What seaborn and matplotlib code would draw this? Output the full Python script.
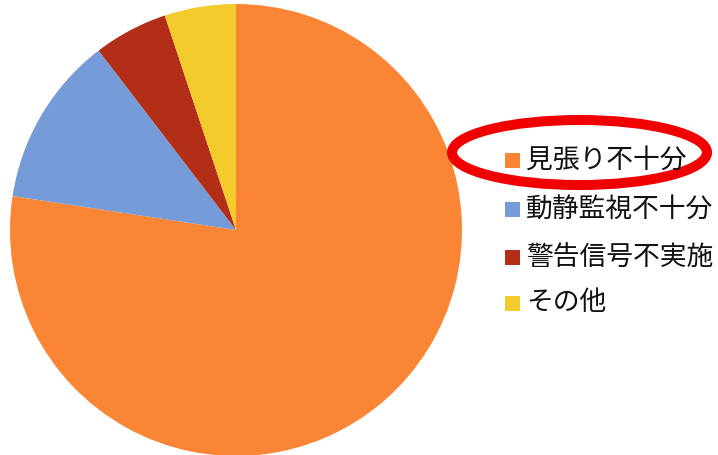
import matplotlib
matplotlib.use("Agg")
import matplotlib.pyplot as plt
from matplotlib.patches import Ellipse, Rectangle
import seaborn as sns

categories = ["見張り不十分", "動静監視不十分", "警告信号不実施", "その他"]
values = [77.4, 12.2, 5.3, 5.1]
colors = ["#F98535", "#759BD8", "#B22E17", "#F3CB2D"]

sns.set_theme(style="white")
plt.rcParams['font.family'] = ['Noto Sans CJK JP', 'DejaVu Sans']

W, H = 718, 455
fig = plt.figure(figsize=(W / 100, H / 100), dpi=100)
fig.patch.set_facecolor("white")

# pie axes: center (236,230) px from top-left, radius 226
cx, cy, r = 236, 230, 226
ax = fig.add_axes([(cx - r) / W, (H - cy - r) / H, 2 * r / W, 2 * r / H])
palette = sns.color_palette(colors)
wedges, _ = ax.pie(values, colors=palette, startangle=90, counterclock=False,
                   radius=1.0, wedgeprops=dict(linewidth=0))
ax.set_xlim(-1, 1)
ax.set_ylim(-1, 1)
ax.set_aspect("equal")
ax.axis("off")

# legend
rows_y = [160, 209, 257, 303]
for lab, col, y in zip(categories, palette, rows_y):
    fig.patches.append(Rectangle(((505) / W, (H - y - 7.5) / H), 15 / W, 15 / H,
                                 transform=fig.transFigure, facecolor=col,
                                 edgecolor="none", figure=fig))
    fig.text(526 / W, (H - y) / H, lab, fontsize=19.3, color="#111111",
             va="center", ha="left")

# red ellipse highlight
fig.patches.append(Ellipse((579.5 / W, (H - 152.5) / H), 255 / W, 65 / H,
                           transform=fig.transFigure, facecolor="none",
                           edgecolor="#F00000", linewidth=7.2, figure=fig))

fig.savefig("out.png", dpi=100)
